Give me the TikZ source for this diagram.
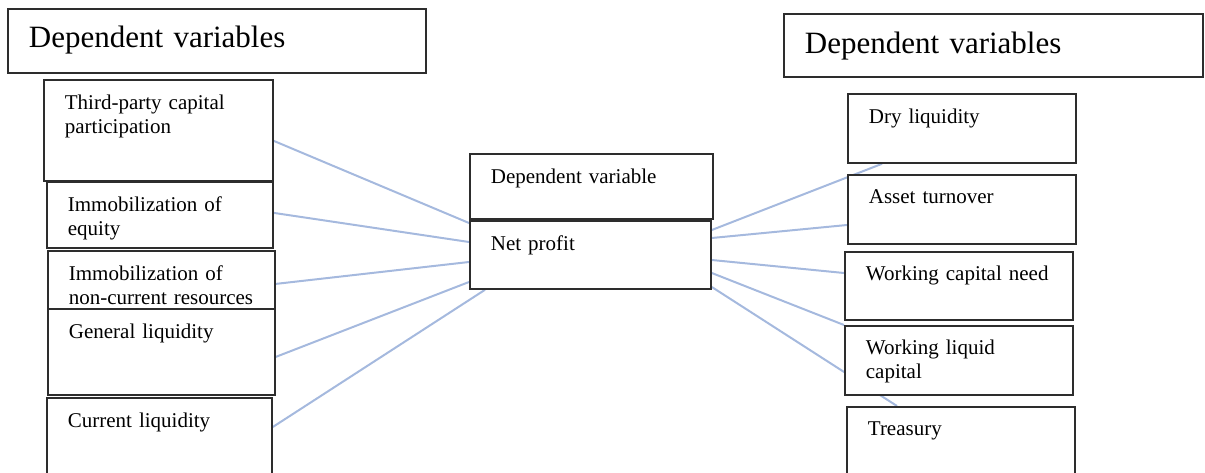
\documentclass[tikz,border=0pt]{standalone}
\usepackage{fontspec}
\setmainfont{Liberation Serif}
\usetikzlibrary{backgrounds}

\definecolor{linkblue}{RGB}{165,185,222}
\definecolor{boxgray}{RGB}{45,45,45}

\tikzset{
  varbox/.style={draw=boxgray, line width=1.8pt, fill=white, anchor=north west,
    inner ysep=0pt, inner xsep=21pt, align=left, text height=30pt,
    font=\fontsize{21}{23.5}\selectfont},
  titlebox/.style={varbox, inner xsep=21pt, text height=39pt,
    font=\fontsize{31}{36}\selectfont},
  link/.style={linkblue, line width=2pt}
}

\begin{document}
\begin{tikzpicture}[x=1pt,y=-1pt]
\useasboundingbox (0,0) rectangle (1205,473);
\clip (0,0) rectangle (1205,473);

% TITLES
\node[titlebox, minimum width=418pt, minimum height=64pt, text width=376pt, text depth=25pt] (ltitle) at (7,8) {Dependent variables};
\node[titlebox, minimum width=419pt, minimum height=63pt, text width=377pt, text height=40pt, text depth=23pt] (rtitle) at (783,13) {Dependent variables};

% LEFT COLUMN
\node[varbox, minimum width=229pt, minimum height=101pt, text width=187pt, text depth=71pt] (tpc) at (43,79) {Third-party capital\\participation};
\node[varbox, minimum width=226pt, minimum height=66pt, text width=184pt, text depth=36pt] (equity) at (46,181) {Immobilization of\\equity};
\node[varbox, minimum width=227pt, minimum height=58pt, text width=185pt, text depth=28pt] (noncur) at (47,250) {Immobilization of\\non-current resources};
\node[varbox, minimum width=227pt, minimum height=86pt, text width=185pt, text depth=56pt] (genliq) at (47,308) {General liquidity};
\node[varbox, minimum width=225pt, minimum height=100pt, text width=183pt, text depth=70pt] (curliq) at (46,397) {Current liquidity};

% CENTER
\node[varbox, minimum width=243pt, minimum height=65pt, text width=201pt, text depth=35pt] (depvar) at (469,153) {Dependent variable};
\node[varbox, minimum width=241pt, minimum height=68pt, text width=199pt, text depth=38pt] (netprofit) at (469,220) {Net profit};

% RIGHT COLUMN
\node[varbox, minimum width=228pt, minimum height=69pt, text width=186pt, text depth=39pt] (dryliq) at (847,93) {Dry liquidity};
\node[varbox, minimum width=228pt, minimum height=69pt, text width=186pt, text height=29pt, text depth=40pt] (asset) at (847,174) {Asset turnover};
\node[varbox, minimum width=228pt, minimum height=68pt, text width=186pt, text height=29pt, text depth=39pt] (wcn) at (844,251) {Working capital need};
\node[varbox, minimum width=228pt, minimum height=69pt, text width=186pt, text height=29pt, text depth=40pt] (wlc) at (844,325) {Working liquid\\capital};
\node[varbox, minimum width=228pt, minimum height=100pt, text width=186pt, text height=29pt, text depth=71pt] (treasury) at (846,406) {Treasury};

% LINKS
\begin{scope}[on background layer]
\draw[link] ([yshift=-10.5pt]tpc.east) -- ([yshift=-3pt]netprofit.north west);
\draw[link] ([yshift=2pt]equity.east) -- ([yshift=-22pt]netprofit.north west);
\draw[link] ([yshift=-4pt]noncur.east) -- ([yshift=-42pt]netprofit.north west);
\draw[link] ([yshift=-5pt]genliq.east) -- ([yshift=-62pt]netprofit.north west);
\draw[link] ([yshift=-30pt]curliq.north east) -- ([xshift=16pt]netprofit.south west);

\draw[link] ([yshift=-10pt]netprofit.north east) -- ([xshift=35pt]dryliq.south west);
\draw[link] ([yshift=-18pt]netprofit.north east) -- ([yshift=-51pt]asset.north west);
\draw[link] ([yshift=-40pt]netprofit.north east) -- ([yshift=-22pt]wcn.north west);
\draw[link] ([yshift=-53pt]netprofit.north east) -- (wlc.north west);
\draw[link] ([yshift=-67pt]netprofit.north east) -- ([xshift=51pt]treasury.north west);
\end{scope}
\end{tikzpicture}
\end{document}
